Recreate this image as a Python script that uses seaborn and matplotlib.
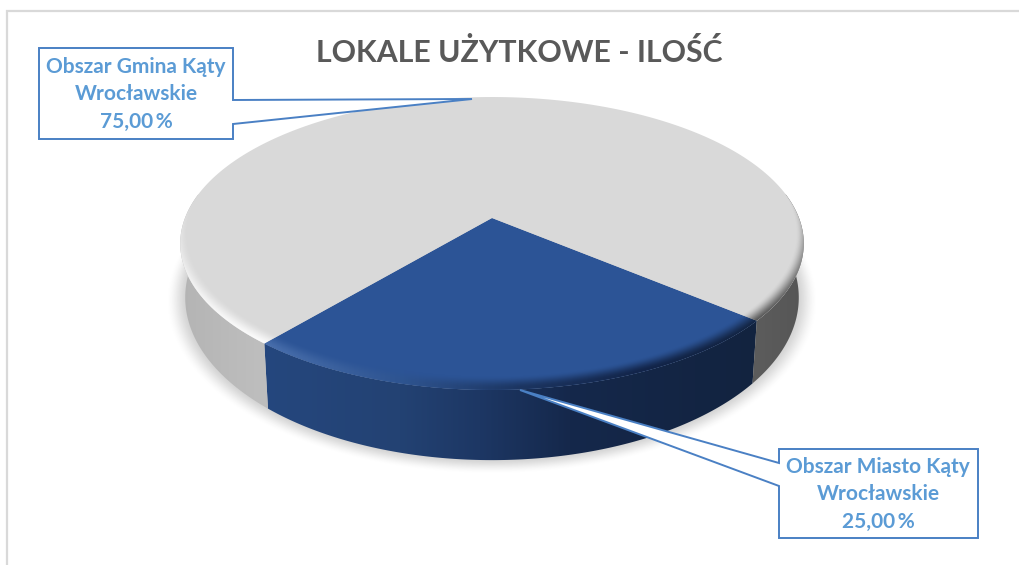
import numpy as np
import matplotlib
matplotlib.use("Agg")
import matplotlib.pyplot as plt
import seaborn as sns
from matplotlib.colors import to_rgb
from matplotlib.path import Path
from matplotlib.patches import Polygon
from matplotlib.transforms import Transform

# ---- data ----
title_text = "LOKALE UŻYTKOWE - ILOŚĆ"
categories = ["Obszar Miasto Kąty\nWrocławskie", "Obszar Gmina Kąty\nWrocławskie"]
shares = [25.0, 75.0]
slice_colors = ["#2c5496", "#d9d9d9"]

sns.set_theme(style="white")
plt.rcParams["font.family"] = ["Lato", "DejaVu Sans"]

W, H = 1019, 565
fig = plt.figure(figsize=(W / 100, H / 100), dpi=100, facecolor="white")
ax = fig.add_axes([0, 0, 1, 1])

# ---- perspective of the disc (unit circle -> picture pixels) ----
CX, APEX_Y, CY = 492.0, 218.0, 243.0
SX, QY, RY = 307.0, -104.1, 0.174
WALL_KX, WALL_KY, WALL_DY = 0.984, 1.11, 54.0


class Tilt(Transform):
    input_dims = output_dims = 2
    is_affine = False

    def transform_non_affine(self, v):
        v = np.asarray(v, float)
        w = 1 + RY * v[:, 1]
        return np.column_stack([CX + SX * v[:, 0] / w, (APEX_Y + QY * v[:, 1]) / w])

    def transform_path_non_affine(self, path):
        poly = Path(path.vertices * 3000, path.codes).to_polygons(closed_only=True)[0] / 3000
        return Path(self.transform_non_affine(poly), closed=True)


tilt = Tilt()


def untilt(X, Y):
    y = (APEX_Y - Y) / (RY * Y - QY)
    x = (X - CX) * (1 + RY * y) / SX
    return x, y


def rim(deg):
    a = np.radians(deg)
    return tilt.transform_non_affine(np.column_stack([np.cos(a), np.sin(a)]))


def lower(p):
    return np.column_stack([CX + WALL_KX * (p[:, 0] - CX), CY + WALL_DY + WALL_KY * (p[:, 1] - CY)])


def smooth(t):
    t = np.clip(t, 0, 1)
    return t * t * (3 - 2 * t)


def ramp(X, xs, hexes):
    c = np.array([to_rgb(h) for h in hexes])
    return np.stack([np.interp(X, xs, c[:, i]) for i in range(3)], axis=-1)


gx, gy = np.meshgrid(np.arange(W) + 0.5, np.arange(H) + 0.5)
EXTENT = (0, W, H, 0)

# ---- the pie itself ----
wedges, _ = ax.pie(shares, colors=slice_colors, startangle=-130, counterclock=True, radius=1,
                   wedgeprops=dict(linewidth=0, zorder=3))
for wd in wedges:
    wd.set_transform(tilt + ax.transData)

# ---- soft shadow ----
sx = CX + (gx - CX) / WALL_KX
sy = CY + (gy - CY - WALL_DY) / WALL_KY
ux, uy = untilt(sx, sy)
rs = np.hypot(ux, uy)
sh = np.zeros((H, W, 4))
sh[..., :3] = 0.55
sh[..., 3] = 0.42 * (1 - smooth((rs - 0.985) / 0.075))
ax.imshow(sh, extent=EXTENT, aspect="auto", zorder=0)

# ---- side wall and rim shading, per slice ----
wall_ramps = [
    ([262, 400, 480, 570, 757], ["#25477e", "#234273", "#1d3764", "#15284b", "#12233f"]),
    ([180, 262, 700, 757, 810], ["#b4b4b4", "#bebebe", "#5a5a5a", "#5c5c5c", "#555555"]),
]
rim_ramps = [
    ([262, 400, 520, 640, 757], ["#4a70ae", "#2f5591", "#1c3561", "#13254a", "#12233f"]),
    ([180, 300, 500, 740, 810], ["#fbfbfb", "#fbfbfb", "#eeeeee", "#4d4d4d", "#4d4d4d"]),
]
FRONT = (-190.0, 10.0)

ux, uy = untilt(gx, gy + 9)
bevel = smooth((np.hypot(ux, uy) - 0.975) / 0.06)

for wd, (wx, wc), (rx, rc) in zip(wedges, wall_ramps, rim_ramps):
    wall_rgba = np.dstack([ramp(gx, wx, wc), np.ones((H, W))])
    for shift in (0, -360):
        a = max(wd.theta1 + shift, FRONT[0])
        b = min(wd.theta2 + shift, FRONT[1])
        if a >= b:
            continue
        top = rim(np.linspace(a, b, 160))
        bot = lower(top)[::-1]
        im = ax.imshow(wall_rgba, extent=EXTENT, aspect="auto", zorder=1)
        im.set_clip_path(Polygon(np.vstack([top, bot]), closed=True, transform=ax.transData))
    rim_rgba = np.dstack([ramp(gx, rx, rc), bevel])
    im = ax.imshow(rim_rgba, extent=EXTENT, aspect="auto", zorder=4)
    im.set_clip_path(wd)

# ---- callouts ----
EDGE = "#4a80c4"
TEXT = "#5b9bd5"
callouts = [
    ((39, 48, 233, 139), [(233, 124), (472, 99), (233, 100)], (136, (67, 94, 122)), 1),
    ((779, 449, 978, 538), [(779, 463), (520, 390), (779, 486)], (878, (467, 494, 522)), 0),
]
for (x0, y0, x1, y1), leader, (tx, tys), idx in callouts:
    if leader[1][0] > x1:
        verts = [(x0, y0), (x1, y0), (x1, leader[2][1]), leader[1], (x1, leader[0][1]), (x1, y1), (x0, y1)]
    else:
        verts = [(x0, y0), (x0, leader[0][1]), leader[1], (x0, leader[2][1]), (x0, y1), (x1, y1), (x1, y0)]
    ax.add_patch(Polygon(verts, closed=True, facecolor="white", edgecolor=EDGE, linewidth=1.4,
                         joinstyle="miter", zorder=6))
    lines = categories[idx].split("\n") + [f"{shares[idx]:.2f}".replace(".", ",") + "\u2009%"]
    for ln, ty in zip(lines, tys):
        ax.text(tx, ty, ln, ha="center", va="center", color=TEXT, fontsize=15, fontweight="bold",
                family=["Lato", "DejaVu Sans"], zorder=7)

# ---- title and frame ----
ax.text(519, 52, title_text, ha="center", va="center", color="#595959", fontsize=21.8,
        fontweight="bold", zorder=7)
ax.plot([7.5, 7.5, W], [H, 10.5, 10.5], color="#d9d9d9", lw=1.6, zorder=0.5, solid_joinstyle="miter")

ax.set_aspect("auto")
ax.set_xlim(0, W)
ax.set_ylim(H, 0)
ax.axis("off")
fig.savefig("out.png", dpi=100, facecolor="white")
